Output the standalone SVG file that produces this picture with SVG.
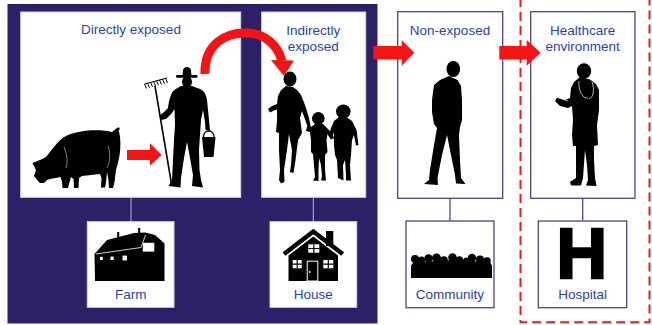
<svg xmlns="http://www.w3.org/2000/svg" width="652" height="325" viewBox="0 0 652 325">
  <style>
    .lbl { font-family: "Liberation Sans", Arial, sans-serif; font-size: 13.5px; fill: #2a3fc0; text-anchor: middle; }
    .inbox { fill: #ffffff; stroke: #d6d6e2; stroke-width: 1; }
    .outbox { fill: #ffffff; stroke: #4a4585; stroke-width: 1.3; }
    .sil { fill: #000000; }
    .flow { fill: #f41414; }
    .link-in { stroke: #b9b9cc; stroke-width: 1; fill: none; }
    .link-out { stroke: #3f3a7a; stroke-width: 1.2; fill: none; }
    .wl { stroke: #ffffff; fill: none; }
  </style>

  <rect x="0" y="0" width="652" height="325" fill="#ffffff"/>
  <!-- exposure zone backdrop -->
  <rect x="7.5" y="4" width="370" height="319.5" fill="#2c2167"/>
  <!-- healthcare zone outline -->
  <path d="M520.5,-2 V322.3 H649.5 V-2" fill="none" stroke="#f01a1a" stroke-width="2" stroke-dasharray="9,5"/>

  <g id="directly-exposed">
    <rect class="inbox" x="20.7" y="12" width="220" height="185.3"/>
    <text class="lbl" x="131" y="34">Directly exposed</text>
    <!-- pig -->
    <path class="sil" d="M38,181 L34,176 L36,170 L32.5,163 L40,160 L46,157 C52,150 58,140 66,136 C78,130 100,129 112,132 C114,130 116,129 117,128 C119.5,126.5 121,129 118.5,130.5 C120,134 121,142 120,152 C119,160 117,166 116,170 L114.5,182 L113,188 L109,188 L108.5,180 L107,172 L106,182 L105,187.5 L101,187.5 L101.5,178 L100,174 C94,175 88,175 82,176 L79,178 L78.5,188 L74,188 L73.5,179 L71,177 L69,184 L68,188 L62.5,188 L62,182 L60.5,177 L56,178 C53,178 50,179 47,180 L44,183 L40,183 Z"/>
    <path class="wl" stroke-width="0.5" d="M64,147 C67,154 68,161 66,168 M108,146 C111,154 110,162 107,168"/>
    <!-- farmer -->
    <path class="sil" d="M182.5,77 L183,70 C184,66 190,66 191,70 L191.5,77 Z"/>
    <rect class="sil" x="176" y="75" width="21.5" height="2.8" rx="1.2"/>
    <ellipse class="sil" cx="187" cy="82" rx="5" ry="6"/>
    <path class="sil" d="M181,86 L175,89.5 C171,92 169,100 168,108 L163,113 L159.5,115.5 L161,120 L166,119 L172,113 L174.5,109 L175,125 L174,140 L173,160 L172,180 L168.5,186 L180.5,187.5 L181,178 L184,158 L187,142 L190,158 L193,175 L192,186 L203,187.5 L201,180 L199.5,170 L199,150 L200,135 L201,120 L203,110 L205,122 L205.5,130 L210,131 L209,120 L207,100 C206,92 202,89 197,88 L192,86 Z"/>
    <path class="sil" d="M202,137 L215.5,137 L213.5,157 L204,157 Z"/>
    <path d="M203.5,137 C203.5,129 214,129 214,137" fill="none" stroke="#000" stroke-width="1.4"/>
    <!-- rake -->
    <line x1="171.5" y1="184" x2="155" y2="86" stroke="#000" stroke-width="1.6"/>
    <path d="M144.5,84 L167,78 M144.5,84 L146.5,88.5 M147.5,83.2 L149.5,87.7 M150.5,82.4 L152.5,86.9 M153.5,81.6 L155.5,86.1 M156.5,80.8 L158.5,85.3 M159.5,80 L161.5,84.5 M162.5,79.2 L164.5,83.7 M165.5,78.4 L167.5,82.9" fill="none" stroke="#000" stroke-width="1"/>
  </g>

  <g id="indirectly-exposed">
    <rect class="inbox" x="261.7" y="12" width="104" height="185.3"/>
    <text class="lbl" x="313.3" y="35">Indirectly</text>
    <text class="lbl" x="313.3" y="50.5">exposed</text>
    <!-- mother -->
    <ellipse class="sil" cx="290" cy="79" rx="6.5" ry="7.5"/>
    <path class="sil" d="M286,86 L281,90 L278,96 L277,104 L272,106 L268,109 L270,112.5 L274,110.5 L277,109.5 L277,120 L276,132 L279,133 L279,150 L280,170 L279,180 L281,183.5 L284.5,182 L284,170 L287,150 L289,134 L292,150 L291,165 L290,172 L293.5,173 L295.5,160 L298,140 L302,133 L300,118 L302,111 L306,122 L308,128.5 L311,128 L309,118 L305,105 L301,95 L297,90 L293,87 Z"/>
    <!-- child in the middle -->
    <ellipse class="sil" cx="318.3" cy="118.5" rx="6.3" ry="6.5"/>
    <path class="sil" d="M315,124 L311,127 L307,126.5 L306,131 L310,132 L311,140 L311,152 L313,154 L314,165 L315,177 L313,180.5 L318.5,181 L318.5,170 L319,158 L321,165 L322,176 L321,180.5 L326,180.5 L325,170 L325,155 L327.5,152 L326.5,140 L327.5,134 L331,139.5 L334.5,138 L329,130 L323,124 Z"/>
    <!-- child on the right -->
    <ellipse class="sil" cx="343.3" cy="111.5" rx="7.3" ry="7"/>
    <path class="sil" d="M339,117 L334,121 L331,128 L328.5,136 L332,138.5 L334,132 L334,145 L335,155 L337,160 L338,178 L343.5,180.5 L343,165 L345,160 L346,175 L346,180.5 L351,180.5 L350,165 L351,155 L352,140 L354,135 L356,145.5 L358.5,145 L356.5,130 L352,121 L347,117.5 Z"/>
  </g>

  <g id="non-exposed">
    <rect class="outbox" x="397.7" y="11.7" width="105" height="186.6"/>
    <text class="lbl" x="450" y="35">Non-exposed</text>
    <ellipse class="sil" cx="453.3" cy="69" rx="6.8" ry="8"/>
    <path class="sil" d="M449,76 L440,80 L434,85 L432,100 L432,112 L434,124 L437,128 L434,145 L430,170 L429,180 L424,184 L438,185 L437.5,178 L442,155 L447,135 L451,155 L455,175 L456,183.5 L465.5,184 L461,178 L460,160 L459,135 L460,127 L462,120 L462,100 L461,86 L457.5,80 Z"/>
  </g>

  <g id="healthcare-environment">
    <rect class="outbox" x="530.7" y="11.7" width="104.3" height="186.6"/>
    <text class="lbl" x="582.7" y="35">Healthcare</text>
    <text class="lbl" x="582.7" y="50.5">environment</text>
    <ellipse class="sil" cx="584" cy="71" rx="7.2" ry="7.8"/>
    <path class="sil" d="M580,77 L574,82 L571,88 L570,98 L565,100 L557,97.5 L555,101 L560,106 L568,108 L572,106 L573,120 L572,135 L573,146 L576,146 L576,165 L576,178 L570,182 L571,185.5 L581,185.5 L583,178 L585,150 L587,165 L588,180 L586,185.5 L596.5,186 L595,178 L594,160 L594,146 L598,145 L597,125 L599,110 L599,90 L596,84 L590,79.5 Z"/>
    <path class="wl" stroke-width="0.7" d="M579,81 C578,91 583,99 588,98 M592,82 C595,90 593,98 589,99 M556,97 L568,101"/>
  </g>

  <g id="farm">
    <rect class="inbox" x="87.3" y="221.7" width="86.7" height="85.6"/>
    <path class="sil" d="M94.5,254 L107,240 L134,233 L145,232.5 L155,235 L164.5,243.5 L164.5,281 L95,281 Z"/>
    <rect class="sil" x="117.2" y="232" width="2" height="6"/>
    <rect class="sil" x="138.2" y="227.8" width="2" height="6"/>
    <path class="wl" stroke-width="0.8" d="M96,254 L141,247.5 L145.5,235"/>
    <rect x="100" y="256.8" width="2.8" height="3.2" fill="#fff"/>
    <rect x="110.5" y="256.6" width="3.2" height="3.4" fill="#fff"/>
    <rect x="122.5" y="255.6" width="4.5" height="4.8" fill="#fff"/>
    <rect x="142.8" y="242.8" width="11.5" height="8.8" fill="#fff"/>
    <text class="lbl" x="130.7" y="299">Farm</text>
  </g>

  <g id="house">
    <rect class="inbox" x="270" y="221.7" width="86.7" height="85.6"/>
    <rect class="sil" x="326" y="231" width="7.3" height="15"/>
    <path d="M284,254 L313.3,231.5 L342.7,254" fill="none" stroke="#000" stroke-width="4.5"/>
    <path class="sil" d="M288.5,255.5 L313.3,236.5 L338,255.5 L338,281 L288.5,281 Z"/>
    <rect x="308.3" y="244.3" width="11" height="8.4" fill="#fff"/>
    <rect x="292.7" y="260" width="9" height="8.3" fill="#fff"/>
    <rect x="323.3" y="260" width="10" height="8.3" fill="#fff"/>
    <path d="M313.8,244.3 V252.7 M308.3,248.5 H319.3 M297.2,260 V268.3 M292.7,264.1 H301.7 M328.3,260 V268.3 M323.3,264.1 H333.3" stroke="#000" stroke-width="1.2"/>
    <rect x="307.2" y="261.2" width="10.6" height="19.8" fill="#000" stroke="#fff" stroke-width="1"/>
    <circle cx="309.8" cy="272" r="0.9" fill="#fff"/>
    <text class="lbl" x="313.3" y="299">House</text>
  </g>

  <g id="community">
    <rect class="outbox" x="406" y="221" width="88" height="86.7"/>
    <path class="sil" d="M411,278 L411,266 C412,263 414,262 416,262 L425,262 L436,261 L452,260 L470,261 L487,262 C490,262 492,264 492,267 L492,278 Z"/>
    <g class="sil">
      <circle cx="415" cy="259" r="4"/>
      <circle cx="421.5" cy="260" r="3.6"/>
      <circle cx="428.5" cy="258.5" r="4.2"/>
      <circle cx="436.5" cy="258" r="4.5"/>
      <circle cx="444" cy="260" r="3.8"/>
      <circle cx="452.5" cy="257.5" r="4.3"/>
      <circle cx="459.5" cy="260" r="3.7"/>
      <circle cx="466.5" cy="261" r="3.5"/>
      <circle cx="472" cy="258" r="4.2"/>
      <circle cx="480" cy="259.5" r="4"/>
      <circle cx="487" cy="261" r="3.8"/>
      <ellipse cx="419" cy="268" rx="7" ry="4"/>
      <ellipse cx="436" cy="266" rx="8" ry="4"/>
      <ellipse cx="455" cy="266" rx="8" ry="4"/>
      <ellipse cx="474" cy="266" rx="8" ry="4"/>
      <ellipse cx="487" cy="268" rx="5" ry="4"/>
    </g>
    <text class="lbl" x="450" y="299">Community</text>
  </g>

  <g id="hospital">
    <rect class="outbox" x="538.3" y="221" width="88.4" height="86.7"/>
    <text x="581.7" y="278" font-family="'Liberation Sans', Arial, sans-serif" font-weight="bold" font-size="70" text-anchor="middle" fill="#000" stroke="#000" stroke-width="2.5">H</text>
    <text class="lbl" x="582.7" y="299">Hospital</text>
  </g>

  <g id="connectors">
    <line class="link-in" x1="131" y1="197.5" x2="131" y2="221.5"/>
    <line class="link-in" x1="313.3" y1="197.5" x2="313.3" y2="221.5"/>
    <line class="link-out" x1="450" y1="198.5" x2="450" y2="220.5"/>
    <line class="link-out" x1="582.7" y1="198.5" x2="582.7" y2="220.5"/>
    <!-- pig to farmer -->
    <path class="flow" d="M127,150 H150 V143.3 L161.7,155 L150,165.7 V160 H127 Z"/>
    <!-- farmer to household (curved) -->
    <path d="M205,74 C204,44 226,32 248,33 C266,34 278,46 282,61" fill="none" stroke="#f41414" stroke-width="9"/>
    <path class="flow" d="M271,60 L294,60.5 L284,76 Z"/>
    <!-- household to community -->
    <path class="flow" d="M373.3,46 H401.7 V40 L414.3,52.8 L401.7,65.7 V59.5 H373.3 Z"/>
    <!-- community to healthcare -->
    <path class="flow" d="M499.3,46 H526.7 V40 L540.7,52.8 L526.7,65.7 V59.5 H499.3 Z"/>
  </g>
</svg>
